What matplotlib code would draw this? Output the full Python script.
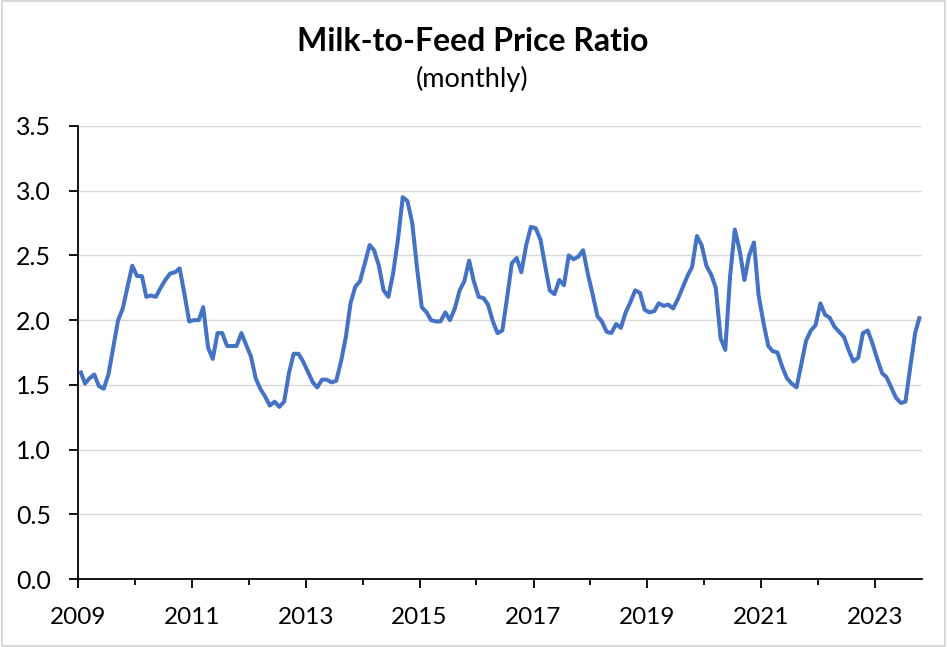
import matplotlib
matplotlib.use("Agg")
import matplotlib.pyplot as plt
import matplotlib.dates as mdates
from matplotlib.patches import Rectangle
from matplotlib.ticker import MultipleLocator, FormatStrFormatter, FixedLocator
import pandas as pd

plt.rcParams['font.family'] = ['Lato', 'DejaVu Sans']

# ---- data ----
start_month = "2009-01-01"
end_month = "2023-10-01"
ratio = [
    1.61, 1.51, 1.55, 1.58, 1.49, 1.47, 1.58, 1.79, 2.00, 2.09, 2.26, 2.42,   # 2009
    2.34, 2.34, 2.18, 2.19, 2.18, 2.25, 2.31, 2.36, 2.37, 2.40, 2.20, 1.99,   # 2010
    2.00, 2.00, 2.10, 1.79, 1.70, 1.90, 1.90, 1.80, 1.80, 1.80, 1.90, 1.81,   # 2011
    1.72, 1.55, 1.47, 1.41, 1.34, 1.37, 1.33, 1.37, 1.59, 1.74, 1.74, 1.68,   # 2012
    1.60, 1.52, 1.48, 1.54, 1.54, 1.52, 1.53, 1.68, 1.87, 2.13, 2.26, 2.30,   # 2013
    2.44, 2.58, 2.54, 2.42, 2.23, 2.18, 2.36, 2.62, 2.95, 2.92, 2.75, 2.41,   # 2014
    2.10, 2.06, 2.00, 1.99, 1.99, 2.06, 2.00, 2.09, 2.23, 2.30, 2.46, 2.30,   # 2015
    2.18, 2.17, 2.12, 1.99, 1.90, 1.92, 2.17, 2.44, 2.48, 2.37, 2.58, 2.72,   # 2016
    2.71, 2.62, 2.43, 2.23, 2.20, 2.31, 2.27, 2.50, 2.47, 2.49, 2.54, 2.36,   # 2017
    2.20, 2.03, 1.99, 1.91, 1.90, 1.97, 1.94, 2.06, 2.14, 2.23, 2.21, 2.08,   # 2018
    2.06, 2.07, 2.13, 2.11, 2.12, 2.09, 2.16, 2.25, 2.34, 2.41, 2.65, 2.58,   # 2019
    2.42, 2.35, 2.25, 1.86, 1.77, 2.34, 2.70, 2.54, 2.31, 2.50, 2.60, 2.19,   # 2020
    1.98, 1.80, 1.76, 1.75, 1.64, 1.55, 1.51, 1.48, 1.66, 1.84, 1.92, 1.96,   # 2021
    2.13, 2.04, 2.02, 1.95, 1.91, 1.87, 1.77, 1.68, 1.71, 1.90, 1.92, 1.82,   # 2022
    1.70, 1.59, 1.56, 1.48, 1.40, 1.36, 1.37, 1.64, 1.90, 2.03,               # 2023
]
label_years = [2009, 2011, 2013, 2015, 2017, 2019, 2021, 2023]
minor_years = [2010, 2012, 2014, 2016, 2018, 2020, 2022]
title = "Milk-to-Feed Price Ratio"
subtitle = "(monthly)"

months = pd.date_range(start_month, end_month, freq="MS") + pd.Timedelta(days=14)

fig = plt.figure(figsize=(9.47, 6.47), dpi=100)
ax = fig.add_axes([0.0824, 0.1051, 0.8917, 0.7002])

ax.plot(months, ratio, color="#4472C4", linewidth=2.9, solid_joinstyle="round",
        solid_capstyle="butt", zorder=3)

ax.set_ylim(0, 3.5)
ax.yaxis.set_major_locator(MultipleLocator(0.5))
ax.yaxis.set_major_formatter(FormatStrFormatter("%.1f"))
ax.set_xlim(pd.Timestamp("2009-01-01"), pd.Timestamp("2023-11-01"))
ax.xaxis.set_major_locator(FixedLocator(
    [mdates.date2num(pd.Timestamp(f"{y}-01-01")) for y in label_years]))
ax.xaxis.set_minor_locator(FixedLocator(
    [mdates.date2num(pd.Timestamp(f"{y}-01-01")) for y in minor_years]))
ax.xaxis.set_major_formatter(mdates.DateFormatter("%Y"))

ax.grid(axis="y", color="#d9d9d9", linewidth=1.0, zorder=0)
ax.set_axisbelow(True)
for s in ["top", "right"]:
    ax.spines[s].set_visible(False)
for s in ["left", "bottom"]:
    ax.spines[s].set_linewidth(1.3)
    ax.spines[s].set_color("black")

ax.tick_params(axis="y", which="major", length=6.3, width=1.3, pad=13,
               labelsize=18, colors="black")
ax.tick_params(axis="x", which="major", length=6.3, width=1.3, pad=14,
               labelsize=17.5, colors="black")
ax.tick_params(axis="x", which="minor", length=4.2, width=1.3)

fig.text(0.4995, 0.936, title, ha="center", va="center", fontsize=23,
         fontweight="bold", color="black")
fig.text(0.4985, 0.878, subtitle, ha="center", va="center", fontsize=19.5,
         color="black")

fig.patches.append(Rectangle((0.002, 0.002), 0.996, 0.996, transform=fig.transFigure,
                             fill=False, edgecolor="#d9d9d9", linewidth=1.5))

fig.savefig("out.png", dpi=100)
